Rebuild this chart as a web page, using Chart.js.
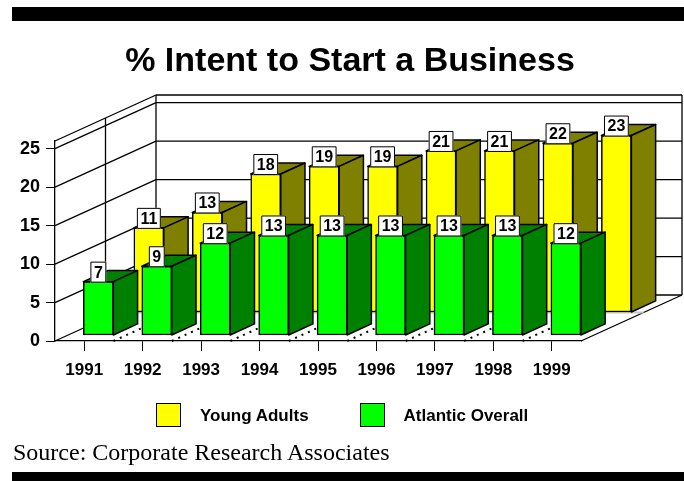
<!DOCTYPE html>
<html>
<head>
<meta charset="utf-8">
<title>% Intent to Start a Business</title>
<script src="https://cdn.jsdelivr.net/npm/chart.js@4"></script>
<style>
  body { margin: 0; background: #fff; }
  #wrap { position: relative; width: 684px; height: 481px; overflow: hidden; font-family: 'Liberation Sans', Arial, sans-serif; }
  #chart { position: absolute; left: 0; top: 0; }
  .band { position: absolute; left: 12px; width: 672px; background: #000; }
  #title { position: absolute; top: 42px; left: 350px; transform: translateX(-50%); white-space: nowrap;
           font-weight: bold; font-size: 34px; line-height: 34px; }
  #legend { position: absolute; top: 403px; left: 156px; display: flex; align-items: center;
            font-weight: bold; font-size: 17px; line-height: 17px; }
  .swatch { width: 23px; height: 22px; border: 1px solid #000; margin-right: 19px; }
  .item { display: flex; align-items: center; margin-right: 51px; }
  #source { position: absolute; left: 13px; top: 440px; font-family: 'Liberation Serif', 'Times New Roman', serif;
            font-size: 24px; line-height: 24px; white-space: nowrap; }
</style>
</head>
<body>
<div id="wrap">
  <div class="band" style="top:7px;height:14px"></div>
  <canvas id="chart" width="684" height="481"></canvas>
  <div id="title">% Intent to Start a Business</div>
  <div id="legend"></div>
  <div id="source">Source: Corporate Research Associates</div>
  <div class="band" style="top:472px;height:9px"></div>
</div>
<script>
const years = ['1991', '1992', '1993', '1994', '1995', '1996', '1997', '1998', '1999'];
const youngAdults = [11, 13, 18, 19, 19, 21, 21, 22, 23];
const atlanticOverall = [7, 9, 12, 13, 13, 13, 13, 13, 12];
const yTicks = [0, 5, 10, 15, 20, 25];
const yMax = 26;

// depth of the box, back wall sits this far up-right of the front plane
const DEPTH_X = 101;
const DEPTH_Y = -46;
const BAR_DEPTH = 0.24;
const BAR_SHIFT = 2;

const series = [
  { label: 'Young Adults', data: youngAdults, face: '#ffff00', side: '#808000', row: 0.62 },
  { label: 'Atlantic Overall', data: atlanticOverall, face: '#00ff00', side: '#008000', row: 0.12 }
];

function line(ctx, x1, y1, x2, y2) {
  ctx.beginPath();
  ctx.moveTo(x1, y1);
  ctx.lineTo(x2, y2);
  ctx.stroke();
}

function poly(ctx, pts, fill) {
  ctx.beginPath();
  ctx.moveTo(pts[0][0], pts[0][1]);
  for (let i = 1; i < pts.length; i++) ctx.lineTo(pts[i][0], pts[i][1]);
  ctx.closePath();
  ctx.fillStyle = fill;
  ctx.fill();
  ctx.stroke();
}

const box3d = {
  id: 'box3d',
  beforeDatasetsDraw(chart) {
    const ctx = chart.ctx;
    const { left, right, top, bottom } = chart.chartArea;
    const y = chart.scales.y;
    ctx.save();
    ctx.strokeStyle = '#000';
    ctx.lineWidth = 1.3;

    // side wall and back wall grid
    [...yTicks, yMax].forEach(v => {
      const py = y.getPixelForValue(v);
      line(ctx, left, py, left + DEPTH_X, py + DEPTH_Y);
      line(ctx, left + DEPTH_X, py + DEPTH_Y, right + DEPTH_X, py + DEPTH_Y);
    });
    line(ctx, left + DEPTH_X, top + DEPTH_Y, left + DEPTH_X, bottom + DEPTH_Y);
    line(ctx, right + DEPTH_X, top + DEPTH_Y, right + DEPTH_X, bottom + DEPTH_Y);
    line(ctx, left + DEPTH_X / 2, top + DEPTH_Y / 2, left + DEPTH_X / 2, bottom + DEPTH_Y / 2);
    line(ctx, right, bottom, right + DEPTH_X, bottom + DEPTH_Y);

    // floor line under the back row
    const fb = series[0].row;
    ctx.strokeStyle = '#c8c8c8';
    ctx.lineWidth = 2;
    line(ctx, left + fb * DEPTH_X, bottom + fb * DEPTH_Y, right + fb * DEPTH_X, bottom + fb * DEPTH_Y);

    // dotted floor lines between categories
    ctx.strokeStyle = '#000';
    ctx.setLineDash([2, 5]);
    ctx.lineWidth = 2;
    const step = (right - left) / years.length;
    for (let i = 1; i < years.length; i++) {
      const px = left + step * i;
      line(ctx, px, bottom, px + DEPTH_X, bottom + DEPTH_Y);
    }
    ctx.restore();
  },
  beforeDatasetDraw(chart, args) {
    const f = series[args.index].row;
    chart.ctx.save();
    chart.ctx.translate(BAR_SHIFT + f * DEPTH_X, f * DEPTH_Y);
  },
  afterDatasetDraw(chart, args) {
    const ctx = chart.ctx;
    const s = series[args.index];
    const ex = BAR_DEPTH * DEPTH_X;
    const ey = BAR_DEPTH * DEPTH_Y;
    ctx.strokeStyle = '#000';
    ctx.lineJoin = 'round';
    args.meta.data.forEach((bar, i) => {
      const { x, y, base, width } = bar.getProps(['x', 'y', 'base', 'width'], true);
      const x0 = x - width / 2;
      const x1 = x + width / 2;
      ctx.lineWidth = 1.5;
      poly(ctx, [[x0, y], [x1, y], [x1 + ex, y + ey], [x0 + ex, y + ey]], s.side);
      poly(ctx, [[x1, y], [x1 + ex, y + ey], [x1 + ex, base + ey], [x1, base]], s.side);

      // value tag on the front edge of the top
      const txt = String(s.data[i]);
      ctx.font = 'bold 16px "Liberation Sans", Arial, sans-serif';
      const w = ctx.measureText(txt).width + 7;
      const h = 21;
      ctx.fillStyle = '#fff';
      ctx.lineWidth = 1;
      ctx.fillRect(x - w / 2, y - h + 1, w, h);
      ctx.strokeRect(x - w / 2 + 0.5, y - h + 1.5, w - 1, h - 1);
      ctx.fillStyle = '#000';
      ctx.textAlign = 'center';
      ctx.textBaseline = 'middle';
      ctx.fillText(txt, x, y - h / 2 + 2);
    });
    ctx.restore();
  }
};

const chart = new Chart(document.getElementById('chart'), {
  type: 'bar',
  data: {
    labels: years,
    datasets: series.map((s, i) => ({
      label: s.label,
      data: s.data,
      backgroundColor: s.face,
      borderColor: '#000',
      borderWidth: 1.5,
      borderSkipped: false,
      barThickness: 30,
      grouped: false,
      clip: false,
      order: i === 0 ? 1 : 0
    }))
  },
  options: {
    responsive: false,
    animation: false,
    layout: { padding: { left: 0, right: 103, top: 141, bottom: 100 } },
    plugins: {
      legend: { display: false },
      title: { display: false },
      tooltip: { enabled: false }
    },
    scales: {
      x: {
        offset: true,
        afterFit(scale) { scale.height = 40; },
        grid: { offset: false, drawOnChartArea: false, tickLength: 10, color: '#000' },
        border: { color: '#000', width: 1.3 },
        ticks: {
          color: '#000',
          padding: 9,
          maxRotation: 0,
          font: { family: '"Liberation Sans", Arial, sans-serif', size: 17, weight: 'bold' }
        }
      },
      y: {
        min: 0,
        max: yMax,
        afterFit(scale) { scale.width = 55; },
        afterBuildTicks(scale) { scale.ticks = yTicks.map(v => ({ value: v })); },
        grid: { drawOnChartArea: false, tickLength: 9, color: '#000' },
        border: { color: '#000', width: 1.3 },
        ticks: {
          color: '#000',
          padding: 6,
          font: { family: '"Liberation Sans", Arial, sans-serif', size: 18, weight: 'bold' }
        }
      }
    }
  },
  plugins: [box3d]
});

// legend built from the chart's own datasets
const legend = document.getElementById('legend');
chart.data.datasets.forEach(ds => {
  const item = document.createElement('div');
  item.className = 'item';
  const sw = document.createElement('div');
  sw.className = 'swatch';
  sw.style.background = ds.backgroundColor;
  const label = document.createElement('span');
  label.textContent = ds.label;
  item.appendChild(sw);
  item.appendChild(label);
  legend.appendChild(item);
});
</script>
</body>
</html>
